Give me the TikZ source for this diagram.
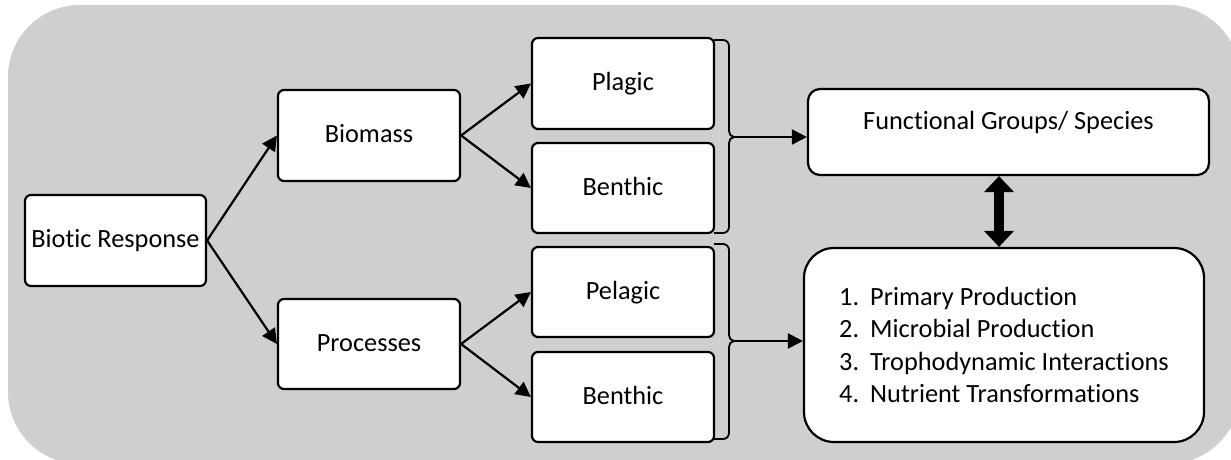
\documentclass[tikz,border=0pt]{standalone}
\usepackage{fontspec}
\setmainfont{Carlito}[RawFeature=-liga]
\usetikzlibrary{arrows.meta}
\definecolor{bggray}{RGB}{208,206,207}
\tikzset{
  box/.style={draw, line width=2.2pt, fill=white, rounded corners=6pt,
    minimum width=182pt, minimum height=90pt, inner sep=0pt,
    text height=18.5pt, text depth=4pt, font=\fontsize{26.3}{32.3}\selectfont},
  arr/.style={line width=2.2pt, -{Triangle[length=15pt,width=15pt]}},
  bracepath/.style={line width=1.8pt, line join=round},
  dbl/.style={line width=10pt, {Triangle[width=29pt,length=16pt]}-{Triangle[width=29pt,length=16pt]}}
}
\begin{document}
\begin{tikzpicture}[x=1pt,y=-1pt]
\useasboundingbox (0,0) rectangle (1231,460);
\fill[bggray, rounded corners=72pt] (8,5) rectangle (1240,464);

\node[box, minimum width=181pt, minimum height=91pt] (br) at (115.5,240.5) {Biotic Response};
\node[box, minimum height=91pt] (bio) at (369,135.5) {Biomass};
\node[box] (proc) at (369,344) {Processes};
\node[box, minimum height=91pt] (plagic) at (623,83.5) {Plagic};
\node[box] (ben1) at (623,188) {Benthic};
\node[box] (pel) at (623,292) {Pelagic};
\node[box] (ben2) at (623,397) {Benthic};

\node[box, minimum width=401pt, minimum height=86pt, rounded corners=12pt, text depth=23pt] (fg) at (1008.5,132) {Functional Groups/ Species};
\node[box, minimum width=400pt, minimum height=194pt, rounded corners=30pt, text height=, text depth=, align=left] (list) at (1004,345)
 {\makebox[31pt][l]{1.}Primary Production\\
  \makebox[31pt][l]{2.}Microbial Production\\
  \makebox[31pt][l]{3.}Trophodynamic Interactions\\
  \makebox[31pt][l]{4.}Nutrient Transformations};

\draw[arr] (br.east) -- (bio.west);
\draw[arr] (br.east) -- (proc.west);
\draw[arr] (bio.east) -- (plagic.west);
\draw[arr] (bio.east) -- (ben1.west);
\draw[arr] (proc.east) -- (pel.west);
\draw[arr] (proc.east) -- (ben2.west);

\coordinate (b1) at (734,137);
\coordinate (b2) at (734,341);
\draw[bracepath] (714,40) -- (723,40) to[out=0,in=90] (729,46) -- (729,131) to[out=-90,in=180] (b1) to[out=180,in=90] (729,143) -- (729,227) to[out=-90,in=0] (723,233) -- (714,233);
\draw[bracepath] (714,244) -- (723,244) to[out=0,in=90] (729,250) -- (729,335) to[out=-90,in=180] (b2) to[out=180,in=90] (729,347) -- (729,433) to[out=-90,in=0] (723,439) -- (714,439);
\draw[arr] (b1) -- (b1 -| fg.west);
\draw[arr] (b2) -- (b2 -| list.west);

\draw[dbl] ([xshift=-9.5pt]fg.south) -- ([xshift=-9.5pt]fg.south |- list.north);
\end{tikzpicture}
\end{document}
